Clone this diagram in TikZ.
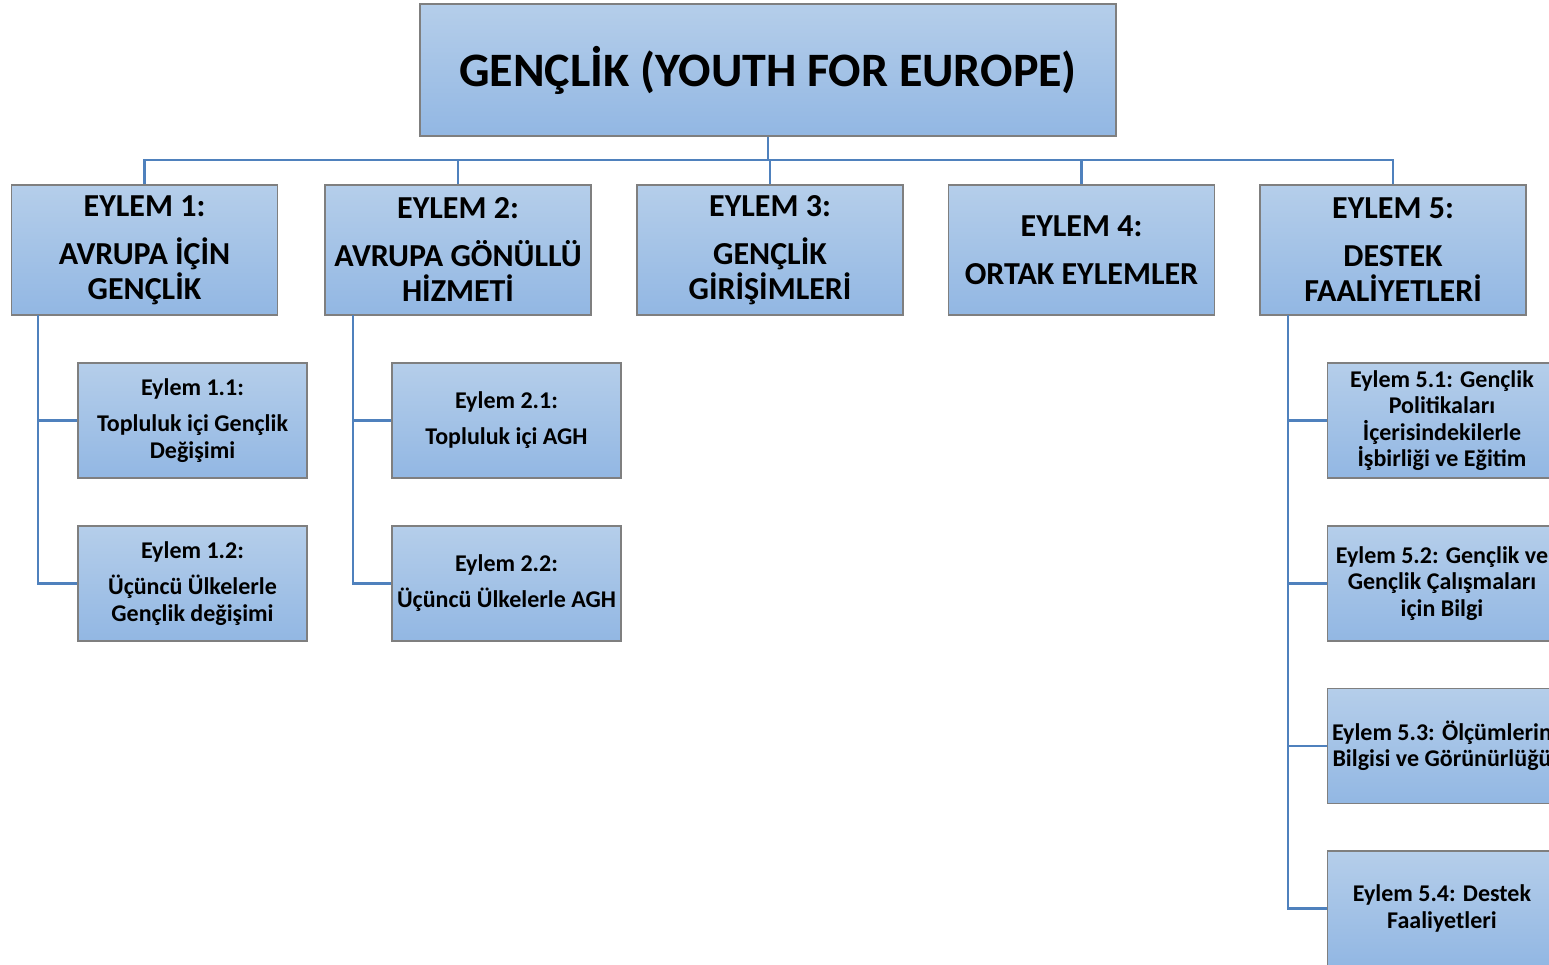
\documentclass[tikz,border=0pt]{standalone}
\usepackage{fontspec}
\setmainfont{Carlito}
\definecolor{boxtop}{HTML}{B5CEEA}
\definecolor{boxbot}{HTML}{92B7E3}
\definecolor{boxgray}{HTML}{7F7F7F}
\definecolor{connblue}{HTML}{4F81BD}
\tikzset{
  box/.style={draw=boxgray, line width=1.2pt, top color=boxtop, bottom color=boxbot,
    inner sep=0pt, align=center, text=black},
  lvlone/.style={box, minimum width=696, minimum height=132, font=\bfseries\fontsize{48}{58}\selectfont},
  lvltwo/.style={box, minimum width=266, minimum height=130, font=\bfseries\fontsize{32}{35}\selectfont},
  lvlthree/.style={box, minimum width=229, minimum height=115, font=\bfseries\fontsize{24}{26.5}\selectfont},
  conn/.style={draw=connblue, line width=2.4pt}
}
\begin{document}
\begin{tikzpicture}[x=1pt,y=-1pt]
\useasboundingbox (0,0) rectangle (1549,965);
\clip (0,0) rectangle (1549,965);
% top
\node[lvlone] (top) at (768,70) {GENÇLİK (YOUTH FOR EUROPE)};
% level two
\node[lvltwo] (e1) at (144.5,250) {EYLEM 1:\\[13pt]AVRUPA İÇİN\\GENÇLİK};
\node[lvltwo] (e2) at (458,250) {EYLEM 2:\\[13pt]AVRUPA GÖNÜLLÜ\\HİZMETİ};
\node[lvltwo] (e3) at (770,250) {EYLEM 3:\\[13pt]GENÇLİK\\GİRİŞİMLERİ};
\node[lvltwo] (e4) at (1081.5,250) {EYLEM 4:\\[13pt]ORTAK EYLEMLER};
\node[lvltwo] (e5) at (1393,250) {EYLEM 5:\\[13pt]DESTEK\\FAALİYETLERİ};
% level three
\node[lvlthree] (a11) at (192.5,420.5) {Eylem 1.1:\\[9.5pt]Topluluk içi Gençlik\\Değişimi};
\node[lvlthree] (a12) at (192.5,583.5) {Eylem 1.2:\\[9.5pt]Üçüncü Ülkelerle\\Gençlik değişimi};
\node[lvlthree] (a21) at (506.5,420.5) {Eylem 2.1:\\[9.5pt]Topluluk içi AGH};
\node[lvlthree] (a22) at (506.5,583.5) {Eylem 2.2:\\[9.5pt]Üçüncü Ülkelerle AGH};
\node[lvlthree] (a51) at (1442,420.5) {Eylem 5.1: Gençlik\\Politikaları\\İçerisindekilerle\\İşbirliği ve Eğitim};
\node[lvlthree] (a52) at (1442,583.5) {Eylem 5.2: Gençlik ve\\Gençlik Çalışmaları\\için Bilgi};
\node[lvlthree] (a53) at (1442,746) {Eylem 5.3: Ölçümlerin\\Bilgisi ve Görünürlüğü};
\node[lvlthree] (a54) at (1442,908.5) {Eylem 5.4: Destek\\Faaliyetleri};
% connectors
\coordinate (bus) at (768,160);
\draw[conn] (top.south) -- (top.south |- bus);
\foreach \n in {e1,e2,e3,e4,e5}
  \draw[conn] (top.south |- bus) -| (\n.north);
\coordinate (t1) at (38,315);
\coordinate (t2) at (353,315);
\coordinate (t5) at (1288,315);
\draw[conn] (t1) |- (a11.west);
\draw[conn] (t1) |- (a12.west);
\draw[conn] (t2) |- (a21.west);
\draw[conn] (t2) |- (a22.west);
\foreach \n in {a51,a52,a53,a54}
  \draw[conn] (t5) |- (\n.west);
\end{tikzpicture}
\end{document}
